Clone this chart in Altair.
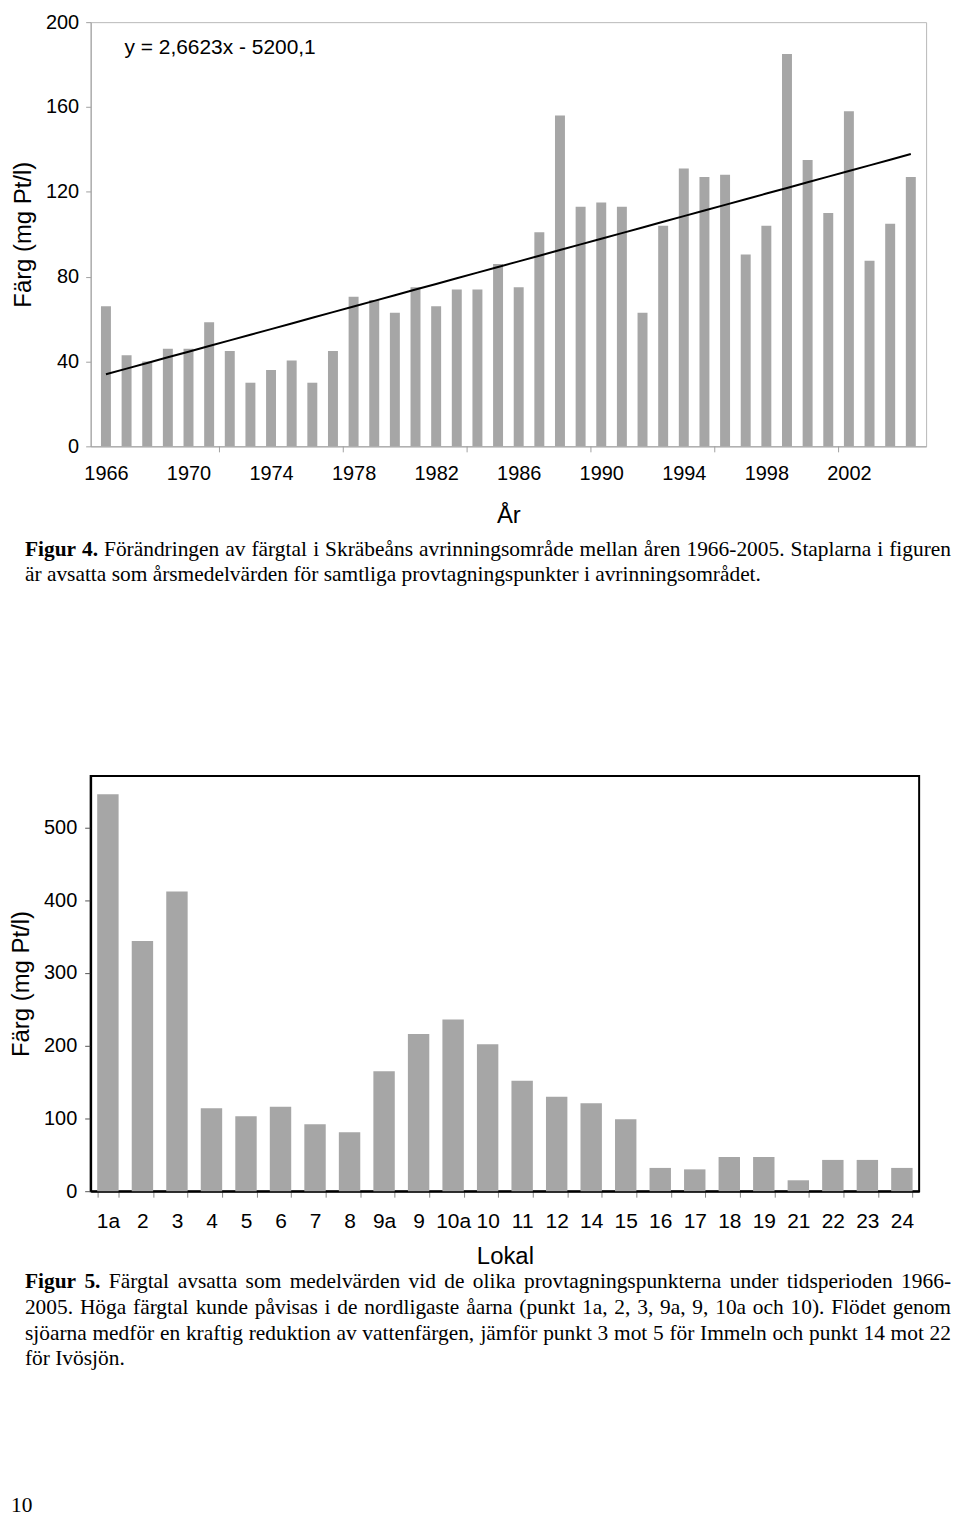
import altair as alt
import pandas as pd

# ---------------- data ----------------
years = list(range(1966, 2006))
farg_year = [66, 43, 40, 46, 46, 58.5, 45, 30, 36, 40.5,
             30, 45, 70.5, 69, 63, 75, 66, 74, 74, 86,
             75, 101, 156, 113, 115, 113, 63, 104, 131, 127,
             128, 90.5, 104, 185, 135, 110, 158, 87.5, 105, 127]
label_years = [1966, 1970, 1974, 1978, 1982, 1986, 1990, 1994, 1998, 2002]
tick_years = [1971.5, 1977.5, 1983.5, 1989.5, 1995.5, 2001.5]
y_ticks_top = [0, 40, 80, 120, 160, 200]
trend_slope = 2.6623
trend_intercept = -5200.1
equation_text = "y = 2,6623x - 5200,1"

lokal = ["1a", "2", "3", "4", "5", "6", "7", "8", "9a", "9", "10a", "10",
         "11", "12", "14", "15", "16", "17", "18", "19", "21", "22", "23", "24"]
farg_lokal = [546, 344, 412, 114, 103, 116, 92, 81, 165, 216, 236, 202,
              152, 130, 121, 99, 32, 30, 47, 47, 15, 43, 43, 32]
y_ticks_bot = [0, 100, 200, 300, 400, 500]

cap4_l1 = "Figur 4. Förändringen av färgtal i Skräbeåns avrinningsområde mellan åren 1966-2005. Staplarna i figuren"
cap4_l2 = "är avsatta som årsmedelvärden för samtliga provtagningspunkter i avrinningsområdet."
cap5_l1 = "Figur 5. Färgtal avsatta som medelvärden vid de olika provtagningspunkterna under tidsperioden 1966-"
cap5_l2 = "2005. Höga färgtal kunde påvisas i de nordligaste åarna (punkt 1a, 2, 3, 9a, 9, 10a och 10). Flödet genom"
cap5_l3 = "sjöarna medför en kraftig reduktion av vattenfärgen, jämför punkt 3 mot 5 för Immeln och punkt 14 mot 22"
cap5_l4 = "för Ivösjön."
page_number = "10"

SANS = "Liberation Sans"
SERIF = "Liberation Serif"
BAR = "#a6a6a6"
GRAY = "#a0a0a0"
Y_TITLE = "Färg (mg Pt/l)"

W1, H1 = 839, 426
W2, H2 = 832, 417
SPACING = 331
LEFT, RIGHT = -66, 864   # caption text edges, relative to plot left
CAP_SIZE = 21.5

# Times / Liberation Serif advance widths (1/1000 em) used to justify captions
_reg = {" ": 250, "(": 333, ")": 333, ",": 250, "-": 333, ".": 250, ":": 278,
        "A": 722, "F": 556, "H": 722, "I": 333, "S": 556, "Ö": 722,
        "a": 444, "b": 500, "c": 444, "d": 500, "e": 444, "f": 333, "g": 500,
        "h": 500, "i": 278, "j": 278, "k": 500, "l": 278, "m": 778, "n": 500,
        "o": 500, "p": 500, "q": 500, "r": 333, "s": 389, "t": 278, "u": 500,
        "v": 500, "w": 722, "x": 500, "y": 500, "z": 444,
        "å": 444, "ä": 444, "ö": 500}
_bold = {"F": 611, "i": 278, "g": 500, "u": 556, "r": 444, ".": 250, " ": 250}


def text_width(s, bold=False, size=CAP_SIZE):
    table = _bold if bold else _reg
    return sum(table.get(ch, 500) for ch in s) * size / 1000.0


def text_layer(txt, x, y, size=CAP_SIZE, font=SERIF, weight="normal", align="left"):
    return alt.Chart(pd.DataFrame({"t": [txt]})).mark_text(
        font=font, fontSize=size, fontWeight=weight, align=align,
        baseline="middle", color="black"
    ).encode(text="t:N", x=alt.value(x), y=alt.value(y))


def justified_line(line, y, n_bold=0):
    words = line.split(" ")
    widths = [text_width(w, i < n_bold) for i, w in enumerate(words)]
    gap = (RIGHT - LEFT - sum(widths)) / (len(words) - 1)
    layers, x = [], LEFT
    for i, (w, wd) in enumerate(zip(words, widths)):
        last = i == len(words) - 1
        layers.append(text_layer(
            w, RIGHT if last else round(x, 2), y,
            weight="bold" if i < n_bold else "normal",
            align="right" if last else "left"))
        x += wd + gap
    return layers


# ---------------- top chart ----------------
top_df = pd.DataFrame({"year": years, "farg": farg_year})
xs = alt.Scale(domain=[1965.5, 2005.5], nice=False, zero=False)
ys = alt.Scale(domain=[0, 200], nice=False)

x_axis_top = alt.Axis(
    values=label_years, format="d", ticks=False, tickSize=0, grid=False,
    domainColor=GRAY, labelFont=SANS, labelFontSize=20, labelColor="black",
    labelPadding=17, titleFont=SANS, titleFontSize=24,
    titleFontWeight="normal", titleColor="black", titlePadding=20)
y_axis_top = alt.Axis(
    values=y_ticks_top, grid=False, domainColor=GRAY, tickColor=GRAY,
    tickSize=5, labelFont=SANS, labelFontSize=20, labelColor="black",
    labelPadding=7, titleFont=SANS, titleFontSize=24,
    titleFontWeight="normal", titleColor="black", titlePadding=10)

bars1 = alt.Chart(top_df).mark_bar(color=BAR, size=10).encode(
    x=alt.X("year:Q", scale=xs, axis=x_axis_top, title="År"),
    y=alt.Y("farg:Q", scale=ys, axis=y_axis_top, title=Y_TITLE),
)

trend = alt.Chart(top_df).transform_calculate(
    trend=f"{trend_slope}*datum.year + ({trend_intercept})"
).mark_line(color="black", strokeWidth=2).encode(
    x=alt.X("year:Q", scale=xs, title="År"),
    y=alt.Y("trend:Q", scale=ys, title=Y_TITLE),
)

xticks = alt.Chart(pd.DataFrame({"year": tick_years})).mark_rule(color=GRAY).encode(
    x=alt.X("year:Q", scale=xs, title="År"),
    y=alt.value(H1), y2=alt.value(H1 + 6),
)

eq = text_layer(equation_text, 34, 26, size=21, font=SANS)

top_layers = [bars1, trend, xticks, eq]
top_layers += justified_line(cap4_l1, 530, n_bold=2)
top_layers += [text_layer(cap4_l2, LEFT, 555)]

top = alt.layer(*top_layers).properties(
    width=W1, height=H1, view=alt.ViewBackground(stroke="#b8b8b8", strokeWidth=1)
)

# ---------------- bottom chart ----------------
bot_df = pd.DataFrame({"lokal": lokal, "farg": farg_lokal})
bars2 = alt.Chart(bot_df).mark_bar(color=BAR).encode(
    x=alt.X("lokal:N", sort=lokal,
            scale=alt.Scale(paddingInner=0.38, paddingOuter=0.19),
            axis=alt.Axis(labelAngle=0, tickBand="extent", tickSize=6,
                          tickColor="#888888", domainColor="black", domainWidth=2,
                          labelFont=SANS, labelFontSize=21, labelColor="black",
                          labelPadding=13, title="Lokal", titleFont=SANS,
                          titleFontSize=24, titleFontWeight="normal",
                          titleColor="black", titlePadding=14)),
    y=alt.Y("farg:Q", scale=alt.Scale(domain=[0, 571], nice=False),
            axis=alt.Axis(values=y_ticks_bot, grid=False, domainColor="black",
                          domainWidth=2, tickColor="#555555", tickSize=6,
                          labelFont=SANS, labelFontSize=20, labelColor="black",
                          labelPadding=8, title=Y_TITLE, titleFont=SANS,
                          titleFontSize=24, titleFontWeight="normal",
                          titleColor="black", titlePadding=10)),
)

bot_layers = [bars2]
bot_layers += justified_line(cap5_l1, 508, n_bold=2)
bot_layers += justified_line(cap5_l2, 534)
bot_layers += justified_line(cap5_l3, 560)
bot_layers += [text_layer(cap5_l4, LEFT, 586),
               text_layer(page_number, -80, 733)]

bot = alt.layer(*bot_layers).properties(
    width=W2, height=H2, view=alt.ViewBackground(stroke="black", strokeWidth=2)
)

chart = alt.vconcat(top, bot, spacing=SPACING, bounds="flush").properties(
    padding=0
).configure(background="white")

chart.save("out.html", embed_options={"renderer": "svg", "actions": False})
